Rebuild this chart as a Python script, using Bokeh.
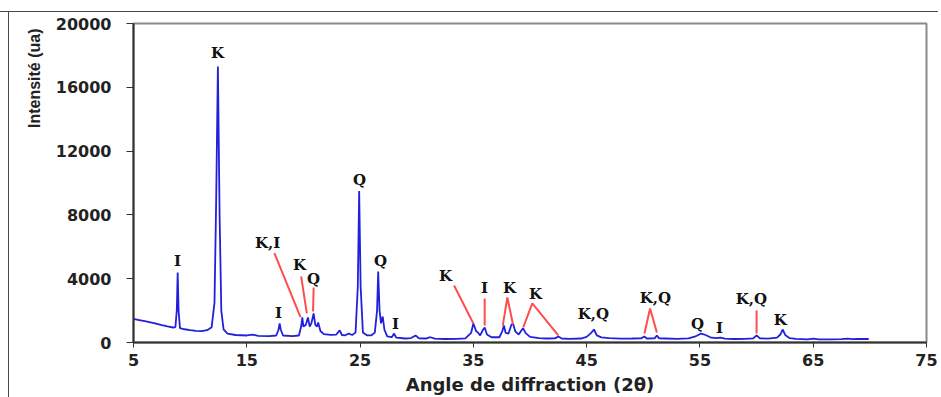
from bokeh.plotting import figure
from bokeh.models import Range1d, FixedTicker, Title, ColumnDataSource
from bokeh.core.properties import value
from bokeh.embed import file_html
from bokeh.resources import INLINE

# ---- data ----
angle_2theta = [5.0, 5.5, 6.0, 6.5, 7.0, 7.5, 8.0, 8.5, 8.7, 8.82, 8.9, 8.98, 9.1, 9.5, 10.0, 10.5,
                11.0, 11.5, 11.9, 12.15, 12.3, 12.45, 12.6, 12.75, 12.95, 13.3, 14.0, 15.0, 15.5, 16.0,
                17.0, 17.6, 17.8, 17.9, 18.0, 18.2, 19.0, 19.6, 19.8, 19.9, 20.0, 20.2, 20.4, 20.55,
                20.7, 20.9, 21.05, 21.2, 21.3, 21.5, 21.8, 22.4, 22.9, 23.2, 23.4, 23.7, 24.0, 24.3,
                24.6, 24.8, 24.92, 25.05, 25.25, 25.6, 26.0, 26.3, 26.5, 26.6, 26.72, 26.85, 27.0,
                27.15, 27.4, 27.8, 28.0, 28.2, 29.0, 29.5, 29.9, 30.2, 30.8, 31.2, 31.6, 32.5, 33.5,
                34.3, 34.8, 35.0, 35.25, 35.4, 35.6, 35.85, 36.0, 36.2, 36.6, 37.3, 37.55, 37.7,
                37.85, 38.1, 38.35, 38.5, 38.7, 39.0, 39.3, 39.4, 39.6, 40.0, 40.8, 41.5, 42.2, 42.5,
                42.8, 43.5, 44.5, 45.0, 45.4, 45.65, 45.9, 46.3, 47.0, 48.0, 49.0, 49.8, 50.1, 50.3,
                51.0, 51.2, 51.4, 52.0, 53.0, 54.0, 54.6, 55.1, 55.5, 56.0, 56.5, 56.8, 57.2, 58.0,
                59.0, 59.7, 60.0, 60.3, 61.0, 61.8, 62.1, 62.3, 62.55, 62.9, 63.5, 64.5, 65.0, 65.5,
                66.5, 67.5, 68.0, 68.5, 69.0, 69.9]
intensity = [1480, 1410, 1340, 1260, 1180, 1090, 1010, 940, 970, 2000, 4390, 2000, 900, 830, 770, 730,
             710, 770, 960, 2500, 9000, 17300, 8000, 2000, 820, 560, 470, 440, 500, 420,
             400, 440, 800, 1190, 800, 440, 400, 440, 1000, 1570, 1000, 1100, 1570, 1000,
             1200, 1820, 1100, 1000, 1250, 720, 520, 480, 500, 760, 470, 450, 560, 470,
             620, 3500, 9490, 3500, 620, 450, 450, 620, 2000, 4450, 2000, 1200, 1630,
             800, 380, 330, 560, 300, 250, 280, 440, 260, 250, 330, 240, 220, 230,
             260, 600, 1190, 700, 630, 450, 800, 940, 500, 330, 330, 700, 1070,
             600, 550, 1100, 1190, 700, 500, 820, 880, 600, 350, 280, 250, 260, 380,
             250, 230, 250, 350, 600, 815, 450, 320, 280, 240, 250, 260, 380, 250,
             260, 440, 260, 250, 230, 260, 380, 560, 470, 300, 280, 310, 240, 220,
             230, 260, 440, 260, 240, 300, 500, 815, 450, 280, 230, 200, 240, 190,
             200, 210, 240, 210, 230, 220]

peak_labels = ["I", "K", "I", "K,I", "K", "Q", "Q", "Q", "I", "K", "I", "K", "K",
               "K,Q", "K,Q", "Q", "I", "K,Q", "K"]
peak_label_x = [8.88, 12.41, 17.80, 16.83, 19.65, 20.89, 24.95, 26.80, 28.12, 32.54, 35.98,
                38.19, 40.48, 45.60, 51.07, 54.78, 56.72, 59.54, 62.10]
peak_label_y = [5140, 18120, 1820, 6210, 4890, 4010, 10160, 5140, 1190, 4140, 3390,
                3390, 3070, 1760, 2820, 1190, 880, 2700, 1380]

leader_xs = [[17.44, 19.74], [19.8, 20.3], [20.9, 20.85], [33.3, 35.0], [36.0, 36.0],
             [37.6, 38.0, 38.5], [39.4, 40.2, 42.5], [50.1, 50.6, 51.2], [60.0, 60.0]]
leader_ys = [[5600, 1590], [4140, 1820], [3450, 1940], [3570, 1190], [2760, 1070],
             [1070, 2820, 1130], [940, 2450, 440], [560, 2130, 630], [2010, 560]]

x_ticks = [5, 15, 25, 35, 45, 55, 65, 75]
y_ticks = [0, 4000, 8000, 12000, 16000, 20000]
x_title = "Angle de diffraction (2θ)"
y_title = "Intensité (ua)"

# ---- figure ----
p = figure(width=938, height=397, x_range=Range1d(5, 75), y_range=Range1d(0, 20000),
           output_backend="svg", toolbar_location=None,
           min_border_left=133, min_border_right=12, min_border_top=23, min_border_bottom=55)
p.xgrid.visible = False
p.ygrid.visible = False
p.outline_line_color = "#8a8a8a"
p.outline_line_width = 2
p.background_fill_color = "white"
p.border_fill_color = None
# outer frame of the original picture: thin top and left lines
p.styles = {"box-shadow": "inset 0 11px 0 0 white, inset 0 12px 0 0 #4a4a4a, "
                          "inset 8px 0 0 0 white, inset 9px 0 0 0 #4a4a4a",
            "background-color": "white"}

tick_font = "DejaVu Sans"
for ax in (p.xaxis[0], p.yaxis[0]):
    ax.axis_line_color = "#333333"
    ax.axis_line_width = 2
    ax.major_tick_line_color = "#333333"
    ax.major_tick_line_width = 1
    ax.major_tick_in = 0
    ax.minor_tick_line_color = None
    ax.major_label_text_font = tick_font
    ax.major_label_text_font_style = "bold"
    ax.major_label_text_font_size = "16px"
    ax.major_label_text_color = "#222222"

p.xaxis.ticker = FixedTicker(ticks=x_ticks)
p.yaxis.ticker = FixedTicker(ticks=y_ticks)
p.xaxis.major_label_overrides = {t: str(t) for t in x_ticks}
p.yaxis.major_label_overrides = {t: str(t) for t in y_ticks}
p.xaxis.major_tick_out = 5
p.xaxis.major_label_standoff = 6
p.yaxis.major_tick_out = 7
p.yaxis.major_label_standoff = 15

p.xaxis.axis_label = x_title
p.xaxis.axis_label_text_font = "DejaVu Sans"
p.xaxis.axis_label_text_font_style = "bold"
p.xaxis.axis_label_text_font_size = "18px"
p.xaxis.axis_label_text_color = "#222222"
p.xaxis.axis_label_standoff = 5

p.add_layout(Title(text=y_title, align="right", offset=5, standoff=19,
                   text_font="Liberation Sans", text_font_style="bold",
                   text_font_size="16px", text_color="#222222"), "left")

p.line(angle_2theta, intensity, line_color="#2020dd", line_width=1.8)

p.multi_line(leader_xs, leader_ys, line_color="#ff4d4d", line_width=2)

src = ColumnDataSource(dict(x=peak_label_x, y=peak_label_y, t=peak_labels))
p.text(x="x", y="y", text="t", source=src, text_font=value("DejaVu Serif"),
       text_font_style="bold", text_font_size="15px", text_align="center",
       text_baseline="middle", text_color="#111111")

open("out.html", "w").write(file_html(p, INLINE))
